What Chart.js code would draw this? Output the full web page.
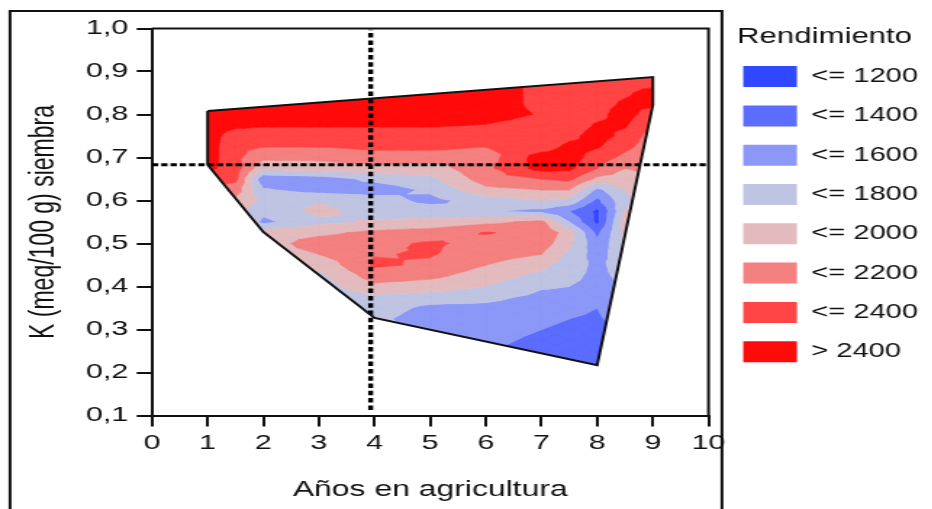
<!DOCTYPE html>
<html lang="es">
<head>
<meta charset="utf-8">
<title>Rendimiento según años en agricultura y K a la siembra</title>
<script src="https://cdn.jsdelivr.net/npm/chart.js@4.4.1/dist/chart.umd.min.js"></script>
<style>
    html, body { margin: 0; padding: 0; background: #fff; overflow: hidden; }
    /* el gráfico se dibuja angosto y se estira en horizontal */
    #grafico { display: block; transform: scaleX(1.45); transform-origin: 0 0; }
</style>
</head>
<body>
<canvas id="grafico" width="643" height="509"></canvas>
<script>
// Malla de rendimiento: columnas = años en agricultura, filas = K (meq/100 g) a la siembra
const aniosX = [1, 1.5, 2, 3, 4, 5, 6, 7, 7.5, 8, 8.5, 9];
const potasioY = [0.9, 0.875, 0.85, 0.825, 0.8, 0.775, 0.75, 0.725, 0.7, 0.675, 0.65, 0.625, 0.6, 0.575,
    0.55, 0.525, 0.5, 0.475, 0.45, 0.425, 0.4, 0.375, 0.35, 0.325, 0.3, 0.275, 0.25, 0.225, 0.2];
const rendimiento = [
    [2500, 2500, 2500, 2500, 2500, 2500, 2500, 2350, 2350, 2350, 2350, 2350],
    [2500, 2500, 2500, 2500, 2500, 2500, 2500, 2350, 2350, 2350, 2350, 2350],
    [2500, 2500, 2500, 2500, 2500, 2500, 2500, 2350, 2350, 2350, 2380, 2450],
    [2500, 2500, 2500, 2500, 2500, 2500, 2500, 2350, 2350, 2350, 2420, 2450],
    [2500, 2500, 2500, 2500, 2500, 2500, 2500, 2380, 2330, 2350, 2480, 2300],
    [2500, 2450, 2420, 2420, 2420, 2420, 2390, 2300, 2300, 2420, 2420, 2200],
    [2500, 2300, 2300, 2300, 2300, 2300, 2300, 2250, 2350, 2480, 2350, 2100],
    [2500, 2250, 2200, 2200, 2250, 2250, 2200, 2300, 2450, 2420, 2250, 2100],
    [2500, 2250, 2050, 2050, 2100, 2100, 2100, 2500, 2500, 2300, 2150, 2050],
    [2450, 2300, 1850, 1900, 1950, 1900, 2150, 2480, 2450, 2200, 2000, 2050],
    [2300, 2250, 1450, 1500, 1650, 1750, 2100, 2200, 2250, 1950, 1900, 2000],
    [2150, 2100, 1620, 1520, 1480, 1640, 1950, 2000, 2000, 1550, 1800, 2000],
    [2000, 1950, 1750, 1780, 1700, 1540, 1700, 1800, 1750, 1350, 1750, 1950],
    [1950, 1900, 1650, 1850, 1720, 1700, 1620, 1550, 1400, 1150, 1800, 1950],
    [1900, 1900, 1550, 1750, 1820, 1850, 1950, 2050, 1600, 1150, 1900, 1900],
    [1900, 1900, 1900, 1950, 2050, 2100, 2210, 2150, 1900, 1350, 1850, 1900],
    [1900, 1900, 1900, 2100, 2150, 2225, 2150, 2100, 1850, 1450, 1800, 1800],
    [1850, 1850, 1900, 2000, 2190, 2215, 2100, 2000, 1750, 1500, 1750, 1800],
    [1800, 1800, 1850, 1850, 2230, 2170, 2000, 1850, 1700, 1550, 1700, 1750],
    [1800, 1800, 1800, 1750, 2100, 2050, 1900, 1750, 1650, 1550, 1650, 1700],
    [1800, 1800, 1800, 1700, 1950, 1900, 1800, 1620, 1600, 1550, 1600, 1700],
    [1800, 1800, 1800, 1700, 1750, 1700, 1650, 1550, 1550, 1500, 1600, 1650],
    [1800, 1800, 1800, 1700, 1700, 1550, 1550, 1500, 1450, 1400, 1550, 1600],
    [1800, 1800, 1800, 1700, 1650, 1500, 1500, 1450, 1400, 1370, 1500, 1550],
    [1800, 1800, 1800, 1700, 1600, 1600, 1500, 1400, 1350, 1330, 1450, 1500],
    [1800, 1800, 1800, 1700, 1600, 1600, 1460, 1350, 1300, 1300, 1400, 1450],
    [1800, 1800, 1800, 1700, 1600, 1600, 1420, 1300, 1300, 1300, 1400, 1450],
    [1800, 1800, 1800, 1700, 1600, 1600, 1420, 1300, 1300, 1300, 1400, 1450],
    [1800, 1800, 1800, 1700, 1600, 1600, 1420, 1300, 1300, 1300, 1400, 1450]
];

// contorno de la zona con datos
const bordeX = [1, 9, 9, 8, 4, 2, 1, 1];
const bordeY = [0.808, 0.887, 0.822, 0.217, 0.327, 0.527, 0.683, 0.808];

// líneas de corte
const corteAnios = 3.93;
const corteK = 0.683;

// niveles de rendimiento
const limites = [1200, 1400, 1600, 1800, 2000, 2200, 2400];
const etiquetasRend = ["<= 1200", "<= 1400", "<= 1600", "<= 1800", "<= 2000", "<= 2200", "<= 2400", "> 2400"];
const coloresRend = ["#3048ff", "#5c6cff", "#8c98f8", "#bfc4e3", "#e3bbbe", "#f48080", "#ff4545", "#ff0b0b"];

const ticksAnios = ["0", "1", "2", "3", "4", "5", "6", "7", "8", "9", "10"];
const ticksK = ["0,1", "0,2", "0,3", "0,4", "0,5", "0,6", "0,7", "0,8", "0,9", "1,0"];

const fuente = "'Liberation Sans', Arial, sans-serif";
const tinta = "#111";
const bordeDerechoPlot = 488.6;

// recorta un polígono {x,y,v} donde f(p) >= 0
function recortar(puntos, f) {
    const salida = [];
    for (let i = 0; i < puntos.length; i++) {
        const a = puntos[i], b = puntos[(i + 1) % puntos.length];
        const fa = f(a), fb = f(b);
        if (fa >= 0) salida.push(a);
        if ((fa >= 0) !== (fb >= 0)) {
            const t = fa / (fa - fb);
            salida.push({x: a.x + t * (b.x - a.x), y: a.y + t * (b.y - a.y), v: a.v + t * (b.v - a.v)});
        }
    }
    return salida;
}

// bandas rellenas: cada celda se parte en 4 triángulos con el promedio al centro
const pluginContornos = {
    id: "contornos",
    beforeDatasetsDraw(chart) {
        const {ctx} = chart;
        const sx = chart.scales.x, sy = chart.scales.y;
        const px = v => sx.getPixelForValue(v);
        const py = v => sy.getPixelForValue(v);

        ctx.save();
        ctx.beginPath();
        bordeX.forEach((bx, i) => {
            if (i === 0) ctx.moveTo(px(bx), py(bordeY[i]));
            else ctx.lineTo(px(bx), py(bordeY[i]));
        });
        ctx.closePath();
        ctx.clip();

        const trazos = coloresRend.map(() => new Path2D());
        const punto = (i, j) => ({x: aniosX[i], y: potasioY[j], v: rendimiento[j][i]});
        for (let j = 0; j < potasioY.length - 1; j++) {
            for (let i = 0; i < aniosX.length - 1; i++) {
                const a = punto(i, j), b = punto(i + 1, j), c = punto(i + 1, j + 1), d = punto(i, j + 1);
                const m = {x: (a.x + b.x) / 2, y: (a.y + d.y) / 2, v: (a.v + b.v + c.v + d.v) / 4};
                [[a, b, m], [b, c, m], [c, d, m], [d, a, m]].forEach(tri => {
                    coloresRend.forEach((col, k) => {
                        const lo = k === 0 ? -Infinity : limites[k - 1];
                        const hi = k === limites.length ? Infinity : limites[k];
                        let poly = recortar(tri, p => p.v - lo);
                        poly = recortar(poly, p => hi - p.v);
                        if (poly.length < 3) return;
                        const t = trazos[k];
                        poly.forEach((p, n) => {
                            if (n === 0) t.moveTo(px(p.x), py(p.y));
                            else t.lineTo(px(p.x), py(p.y));
                        });
                        t.closePath();
                    });
                });
            }
        }
        trazos.forEach((t, k) => {
            ctx.fillStyle = coloresRend[k];
            ctx.strokeStyle = coloresRend[k];
            ctx.lineWidth = 0.6;
            ctx.fill(t);
            ctx.stroke(t);
        });
        ctx.restore();
    }
};

// marco exterior
const pluginMarco = {
    id: "marco",
    afterDraw(chart) {
        const ctx = chart.ctx;
        ctx.save();
        ctx.strokeStyle = tinta;
        ctx.lineWidth = 2;
        ctx.strokeRect(6.9, 11, 491, 530);
        ctx.restore();
    }
};

document.addEventListener("DOMContentLoaded", function () {
    const ctx = document.getElementById("grafico").getContext("2d");
    const ejeNegro = {width: 2, color: tinta};
    const sinPuntos = {pointRadius: 0, pointHoverRadius: 0, showLine: true, fill: false};

    new Chart(ctx, {
        type: "scatter",
        data: {
            datasets: [
                {
                    ...sinPuntos,
                    label: "Zona con datos",
                    data: bordeX.map((x, i) => ({x: x, y: bordeY[i]})),
                    borderColor: tinta,
                    borderWidth: 2
                },
                {
                    ...sinPuntos,
                    label: "Corte años",
                    data: [{x: corteAnios, y: 0.113}, {x: corteAnios, y: 0.997}],
                    borderColor: "#000",
                    borderWidth: 3.4,
                    borderDash: [4.5, 2.8]
                },
                {
                    ...sinPuntos,
                    label: "Corte K",
                    data: [{x: 0, y: corteK}, {x: 10, y: corteK}],
                    borderColor: "#000",
                    borderWidth: 3,
                    borderDash: [4.3, 2.1]
                },
                {
                    // bordes superior y derecho del área de trazado
                    ...sinPuntos,
                    label: "Caja",
                    data: [{x: 0, y: 1.0}, {x: 10, y: 1.0}, {x: 10, y: 0.1}],
                    borderColor: tinta,
                    borderWidth: 2,
                    clip: 4
                }
            ]
        },
        options: {
            responsive: false,
            animation: false,
            events: [],
            layout: {padding: {left: 0, right: 0, top: 10, bottom: 0}},
            plugins: {
                tooltip: {enabled: false},
                legend: {
                    position: "right",
                    align: "start",
                    onClick: null,
                    title: {
                        display: true,
                        text: "Rendimiento",
                        position: "center",
                        color: tinta,
                        font: {family: fuente, size: 21.5, lineHeight: 1},
                        padding: {top: 16.3, bottom: 0}
                    },
                    labels: {
                        boxWidth: 37,
                        boxHeight: 21,
                        padding: 18.3,
                        color: tinta,
                        font: {family: fuente, size: 20},
                        generateLabels: () => etiquetasRend.map((texto, k) => ({
                            text: texto,
                            fillStyle: coloresRend[k],
                            strokeStyle: coloresRend[k],
                            lineWidth: 0,
                            hidden: false
                        }))
                    }
                }
            },
            scales: {
                x: {
                    type: "linear",
                    position: "bottom",
                    min: 0,
                    max: 10,
                    afterFit: s => { s.height = 93.5; },
                    ticks: {
                        stepSize: 1,
                        padding: 4,
                        autoSkip: false,
                        maxRotation: 0,
                        color: tinta,
                        font: {family: fuente, size: 21},
                        callback: (v, i) => ticksAnios[i]
                    },
                    grid: {drawOnChartArea: false, tickLength: 11, lineWidth: 2, color: tinta},
                    border: ejeNegro,
                    title: {
                        display: true,
                        text: "Años en agricultura",
                        color: tinta,
                        font: {family: fuente, size: 22},
                        padding: {top: 0, bottom: 5.8}
                    }
                },
                y: {
                    type: "linear",
                    position: "left",
                    min: 0.1,
                    max: 1.0,
                    afterFit: s => { s.width = 104.8; },
                    ticks: {
                        stepSize: 0.1,
                        padding: 5.8,
                        autoSkip: false,
                        color: tinta,
                        font: {family: fuente, size: 21},
                        callback: (v, i) => ticksK[i]
                    },
                    grid: {drawOnChartArea: false, tickLength: 10.5, lineWidth: 2, color: tinta},
                    border: ejeNegro,
                    title: {
                        display: true,
                        text: "K (meq/100 g) siembra",
                        color: tinta,
                        font: {family: fuente, size: 23},
                        padding: {top: 17.2, bottom: 0}
                    }
                },
                // espacio sobre el área de trazado
                xSup: {
                    type: "linear",
                    position: "top",
                    display: false,
                    min: 0,
                    max: 10,
                    afterFit: s => { s.height = 18.5; }
                },
                // separación entre el área de trazado y la leyenda
                yDer: {
                    type: "linear",
                    position: "right",
                    display: false,
                    min: 0.1,
                    max: 1.0,
                    afterFit: s => {
                        const ley = s.chart.legend;
                        s.width = Math.max(0, s.chart.width - bordeDerechoPlot - (ley ? ley.width : 0));
                    }
                }
            }
        },
        plugins: [pluginContornos, pluginMarco]
    });
});
</script>
</body>
</html>
